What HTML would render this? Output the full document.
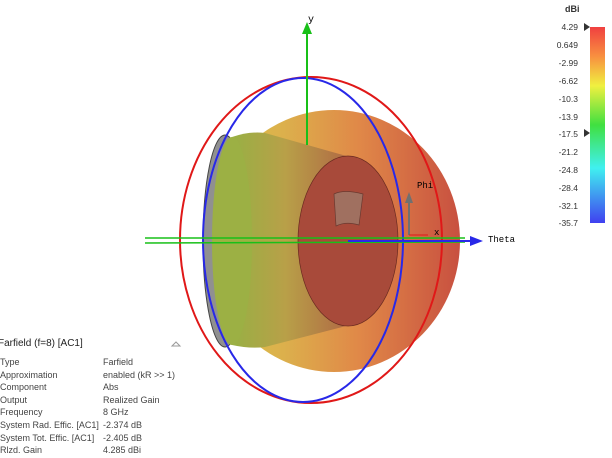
<!DOCTYPE html>
<html><head><style>
body{margin:0;width:612px;height:458px;background:#fff;overflow:hidden;position:relative;font-family:"Liberation Sans",sans-serif;}
.t{position:absolute;font-size:9px;color:#444;white-space:nowrap}
.cb{position:absolute;font-size:8.5px;color:#333;right:34px;text-align:right}
</style></head><body>
<svg width="612" height="458" style="position:absolute;left:0;top:0">
<defs>
<linearGradient id="sph" x1="0" x2="1" y1="0" y2="0">
<stop offset="0" stop-color="#d8c448"/><stop offset="0.3" stop-color="#dcb04c"/>
<stop offset="0.6" stop-color="#e08848"/><stop offset="1" stop-color="#c85040"/></linearGradient>
<linearGradient id="horn" x1="0" x2="1" y1="0" y2="0">
<stop offset="0" stop-color="#98b044"/><stop offset="0.45" stop-color="#b8a048"/>
<stop offset="1" stop-color="#b06844"/></linearGradient>
<linearGradient id="cbar" x1="0" x2="0" y1="0" y2="1">
<stop offset="0" stop-color="#f04040"/><stop offset="0.15" stop-color="#f89040"/>
<stop offset="0.3" stop-color="#f0f040"/><stop offset="0.5" stop-color="#40e040"/>
<stop offset="0.72" stop-color="#40f0f0"/><stop offset="1" stop-color="#4040f0"/></linearGradient>
</defs>
<ellipse cx="334" cy="241" rx="126" ry="131" fill="url(#sph)"/>
<ellipse cx="225" cy="241" rx="22" ry="106" fill="#909090" stroke="#444" stroke-width="1"/>
<path d="M232,137 Q250,131 265,133 L350,157 L350,325 L265,347 Q250,349 232,345 Z" fill="url(#horn)"/>
<ellipse cx="232" cy="241" rx="20" ry="104" fill="#9cb044"/>
<ellipse cx="348" cy="241" rx="50" ry="85" fill="#a84a3a" stroke="#6a2a20" stroke-width="0.7"/>
<path d="M334,194 Q344,189 363,194 L359,225 Q346,221 336,226 Z" fill="#a07060" stroke="#6a3a30" stroke-width="0.7"/>
<ellipse cx="311" cy="240" rx="131" ry="163" fill="none" stroke="#e01818" stroke-width="2"/>
<ellipse cx="303" cy="240" rx="100" ry="162" fill="none" stroke="#2828e8" stroke-width="2"/>
<line x1="307" y1="28" x2="307" y2="145" stroke="#18c018" stroke-width="2"/>
<polygon points="302,34 307,22 312,34" fill="#18c018"/>
<line x1="145" y1="238" x2="465" y2="238" stroke="#18c018" stroke-width="1.5"/>
<line x1="145" y1="243" x2="465" y2="242" stroke="#18c018" stroke-width="1.5"/>
<line x1="348" y1="241" x2="480" y2="241" stroke="#2828e8" stroke-width="2"/>
<polygon points="470,236 483,241 470,246" fill="#2828e8"/>
<line x1="409" y1="235" x2="409" y2="200" stroke="#707070" stroke-width="2"/>
<polygon points="405,203 409,192 413,203" fill="#707070"/>
<line x1="409" y1="235" x2="428" y2="235" stroke="#e01818" stroke-width="1"/>
<text x="308" y="22" font-family="Liberation Mono" font-size="10">y</text>
<text x="417" y="188" font-family="Liberation Mono" font-size="9">Phi</text>
<text x="434" y="235" font-family="Liberation Mono" font-size="9">x</text>
<text x="488" y="242" font-family="Liberation Mono" font-size="9">Theta</text>
<rect x="590" y="27" width="15" height="196" fill="url(#cbar)"/>
<polygon points="584,23 590,27 584,31" fill="#333"/>
<polygon points="584,129 590,133 584,137" fill="#333"/>
<polygon points="172,346 176,342 180,346" fill="none" stroke="#999"/>
</svg>
<div class="t" style="left:565px;top:4px;font-weight:bold;color:#333">dBi</div>
<div class="cb" style="top:22px">4.29</div>
<div class="cb" style="top:40px">0.649</div>
<div class="cb" style="top:58px">-2.99</div>
<div class="cb" style="top:76px">-6.62</div>
<div class="cb" style="top:94px">-10.3</div>
<div class="cb" style="top:112px">-13.9</div>
<div class="cb" style="top:129px">-17.5</div>
<div class="cb" style="top:147px">-21.2</div>
<div class="cb" style="top:165px">-24.8</div>
<div class="cb" style="top:183px">-28.4</div>
<div class="cb" style="top:201px">-32.1</div>
<div class="cb" style="top:218px">-35.7</div>
<div class="t" style="left:-2px;top:338px;font-size:10px;color:#222">Farfield (f=8) [AC1]</div>
<div class="t" style="left:0;top:356px;line-height:12.6px">Type<br>Approximation<br>Component<br>Output<br>Frequency<br>System Rad. Effic. [AC1]<br>System Tot. Effic. [AC1]<br>Rlzd. Gain</div>
<div class="t" style="left:103px;top:356px;line-height:12.6px">Farfield<br>enabled (kR &gt;&gt; 1)<br>Abs<br>Realized Gain<br>8 GHz<br>-2.374 dB<br>-2.405 dB<br>4.285 dBi</div>
</body></html>
